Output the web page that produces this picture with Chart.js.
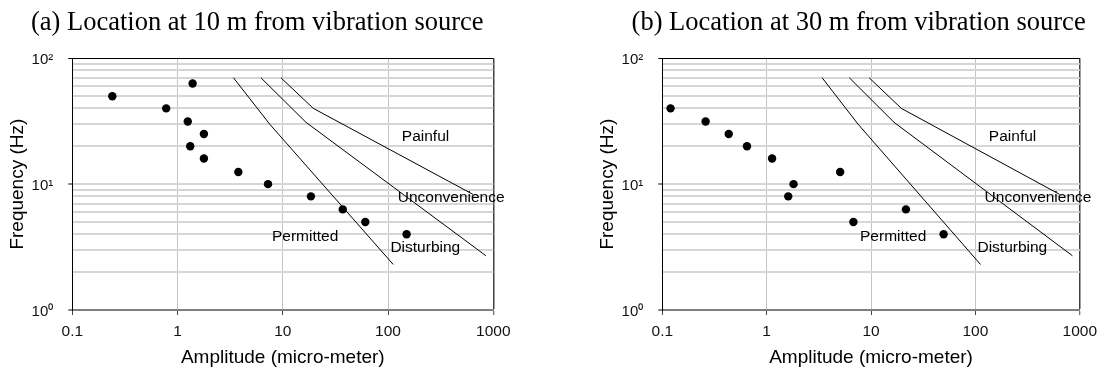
<!DOCTYPE html>
<html>
<head>
<meta charset="utf-8">
<script src="https://cdn.jsdelivr.net/npm/chart.js@4"></script>
<style>
  html, body { margin: 0; padding: 0; background: #fff; }
  #wrap { position: relative; width: 1104px; height: 371px; }
  canvas { position: absolute; top: 0; }
  #panelA { left: 0; }
  #panelB { left: 552px; }
</style>
</head>
<body>
<div id="wrap">
  <canvas id="panelA" width="552" height="371"></canvas>
  <canvas id="panelB" width="552" height="371"></canvas>
</div>
<script>
// Measured vibration at 10 m: amplitude (micro-meter) vs 1/3-octave frequency (Hz)
const ampAt10m  = [0.24, 0.78, 1.39, 1.25, 1.78, 1.32, 1.78, 3.78, 7.24, 18.5, 37.1, 60.8, 150];
const freqAt10m = [50, 40, 63, 31.5, 25, 20, 16, 12.5, 10, 8, 6.3, 5, 4];

// Measured vibration at 30 m
const ampAt30m  = [0.12, 0.26, 0.433, 0.648, 1.127, 1.81, 1.61, 5.06, 6.78, 21.6, 49.6];
const freqAt30m = [40, 31.5, 25, 20, 16, 10, 8, 12.5, 5, 6.3, 4];

// Human perception limit curves
const permittedAmp  = [3.4, 7.5, 112];
const permittedFreq = [70, 30, 2.3];
const unconvAmp     = [6.2, 16.6, 850];
const unconvFreq    = [70, 31, 2.7];
const painfulAmp    = [9.6, 19.5, 640];
const painfulFreq   = [70, 40, 8.3];

// Zone names and where they sit (amplitude, frequency)
const zoneNames = ['Painful', 'Unconvenience', 'Disturbing', 'Permitted'];
const zoneAmp   = [227, 398, 226, 16.3];
const zoneFreq  = [23.8, 7.79, 3.11, 3.8];

// Axis ticks
const xTickValues = [0.1, 1, 10, 100, 1000];
const xTickLabels = ['0.1', '1', '10', '100', '1000'];
const yGridValues = [1, 2, 3, 4, 5, 6, 7, 8, 9, 10, 20, 30, 40, 50, 60, 70, 80, 90, 100];
const yMajorValues = [1, 10, 100];
const yMajorLabels = ['10\u2070', '10\u00b9', '10\u00b2'];

const SANS = '"Liberation Sans", Arial, sans-serif';
const SERIF = '"Liberation Serif", "Times New Roman", serif';

const toPoints = (xs, ys) => xs.map((v, i) => ({ x: v, y: ys[i] }));

const panelText = {
  id: 'panelText',
  beforeDatasetsDraw(chart) {
    const { ctx, scales: { x, y } } = chart;
    ctx.save();
    ctx.fillStyle = '#000';
    ctx.font = '15.5px ' + SANS;
    ctx.textAlign = 'center';
    ctx.textBaseline = 'middle';
    zoneNames.forEach((name, i) => {
      ctx.fillText(name, x.getPixelForValue(zoneAmp[i]), y.getPixelForValue(zoneFreq[i]));
    });
    ctx.restore();
  },
  afterDraw(chart, args, opts) {
    const { ctx } = chart;
    ctx.save();
    ctx.fillStyle = '#000';
    ctx.font = '26.5px ' + SERIF;
    ctx.textAlign = 'left';
    ctx.textBaseline = 'alphabetic';
    ctx.fillText(opts.title, opts.titleX, opts.titleY);
    ctx.restore();
  }
};

function makePanel(id, title, titleX, amp, freq, padLeft, padRight) {
  const curve = (xs, ys) => ({
    type: 'line',
    data: toPoints(xs, ys),
    borderColor: '#000',
    borderWidth: 1,
    pointRadius: 0,
    fill: false,
    tension: 0,
    showLine: true
  });
  return new Chart(document.getElementById(id), {
    type: 'scatter',
    data: {
      datasets: [
        {
          data: toPoints(amp, freq),
          pointRadius: 4.2,
          pointBackgroundColor: '#000',
          pointBorderWidth: 0,
          showLine: false
        },
        curve(permittedAmp, permittedFreq),
        curve(unconvAmp, unconvFreq),
        curve(painfulAmp, painfulFreq)
      ]
    },
    options: {
      responsive: false,
      animation: false,
      devicePixelRatio: 1,
      events: [],
      layout: { padding: { left: padLeft, right: padRight, top: 58.3, bottom: 0 } },
      plugins: {
        legend: { display: false },
        tooltip: { enabled: false },
        panelText: { title: title, titleX: titleX, titleY: 30 }
      },
      scales: {
        x: {
          type: 'logarithmic',
          min: 0.1,
          max: 1000,
          afterBuildTicks: (s) => { s.ticks = xTickValues.map(v => ({ value: v })); },
          afterFit: (s) => { s.height = 61; },
          ticks: {
            autoSkip: false,
            maxRotation: 0,
            padding: 7,
            color: '#111',
            font: { family: SANS, size: 15.5 },
            callback: (v) => {
              const i = xTickValues.indexOf(v);
              return i >= 0 ? xTickLabels[i] : '';
            }
          },
          grid: {
            drawTicks: true,
            tickLength: 5,
            tickColor: '#444',
            tickWidth: 1,
            color: (c) => c.tick.value === 1000 ? '#404040' : (c.tick.value === 0.1 ? 'rgba(0,0,0,0)' : '#c4c4c4'),
            lineWidth: (c) => c.tick.value === 1000 ? 1.5 : 1
          },
          border: { display: true, color: '#808080', width: 2 },
          title: {
            display: true,
            text: 'Amplitude (micro-meter)',
            color: '#000',
            font: { family: SANS, size: 19 },
            padding: { top: 0, bottom: 1.5 }
          }
        },
        y: {
          type: 'logarithmic',
          min: 1,
          max: 100,
          afterBuildTicks: (s) => { s.ticks = yGridValues.map(v => ({ value: v, major: yMajorValues.includes(v) })); },
          afterFit: (s) => { s.width = 66; },
          ticks: {
            autoSkip: false,
            padding: 15,
            labelOffset: 1.5,
            color: '#111',
            font: { family: SANS, size: 15 },
            callback: (v) => {
              const i = yMajorValues.indexOf(v);
              return i >= 0 ? yMajorLabels[i] : '';
            }
          },
          grid: {
            drawTicks: true,
            tickLength: 4,
            tickWidth: 1,
            tickColor: (c) => yMajorValues.includes(c.tick.value) ? '#000' : 'rgba(0,0,0,0)',
            color: (c) => c.tick.value === 100 ? '#000' : (c.tick.value === 1 ? 'rgba(0,0,0,0)' : '#d6d6d6'),
            lineWidth: (c) => c.tick.value === 100 ? 1 : 2
          },
          border: { display: true, color: '#000', width: 1 },
          title: {
            display: true,
            text: 'Frequency (Hz)',
            color: '#000',
            font: { family: SANS, size: 19 },
            padding: { top: 0.3, bottom: 0 }
          }
        }
      }
    },
    plugins: [panelText]
  });
}

makePanel('panelA', '(a) Location at 10 m from vibration source', 31, ampAt10m, freqAt10m, 6.3, 58.7);
makePanel('panelB', '(b) Location at 30 m from vibration source', 79.6, ampAt30m, freqAt30m, 44.3, 20.7);
</script>
</body>
</html>
